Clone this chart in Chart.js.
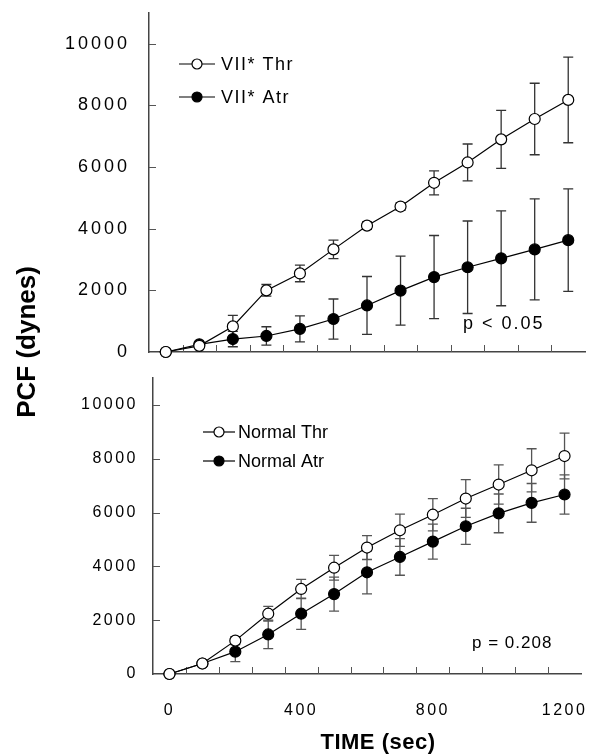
<!DOCTYPE html>
<html>
<head>
<meta charset="utf-8">
<script src="https://cdn.jsdelivr.net/npm/chart.js@4.4.1/dist/chart.umd.min.js"></script>
<style>
  body { margin: 0; background: #fff; width: 591px; height: 755px; position: relative; overflow: hidden; }
  #topChart { position: absolute; left: 0; top: 0; }
  #botChart { position: absolute; left: 0; top: 370px; }
  #yTitle {
    position: absolute; left: -74px; top: 327px; width: 200px; height: 30px;
    line-height: 30px; text-align: center; white-space: nowrap;
    font: bold 26px "Liberation Sans", Arial, sans-serif; color: #000;
    transform: rotate(-90deg);
  }
</style>
</head>
<body>
<canvas id="topChart" width="591" height="370"></canvas>
<canvas id="botChart" width="591" height="385"></canvas>
<div id="yTitle">PCF (dynes)</div>
<script>
// time points (sec)
const timeSec = [0, 100, 200, 300, 400, 500, 600, 700, 800, 900, 1000, 1100, 1200];

// upper panel: VII* plasma
const viiThr    = [0, 200, 830, 2000, 2550, 3330, 4100, 4720, 5490, 6150, 6900, 7560, 8180];
const viiThrErr = [0, 0, 360, 190, 270, 300, 120, 120, 390, 600, 940, 1160, 1390];
const viiAtr    = [0, 250, 420, 520, 750, 1070, 1510, 1990, 2430, 2750, 3040, 3330, 3630];
const viiAtrErr = [0, 0, 250, 300, 420, 650, 940, 1120, 1350, 1500, 1540, 1640, 1660];

// lower panel: normal plasma
const normThr    = [0, 390, 1240, 2240, 3160, 3950, 4700, 5340, 5920, 6520, 7040, 7570, 8100];
const normThrErr = [0, 0, 150, 270, 360, 460, 445, 600, 600, 700, 730, 800, 850];
const normAtr    = [0, 390, 830, 1470, 2240, 2970, 3780, 4350, 4920, 5490, 5970, 6360, 6670];
const normAtrErr = [0, 0, 370, 530, 580, 630, 800, 680, 650, 670, 720, 720, 730];

// axis ticks
const yTickValues = [0, 2000, 4000, 6000, 8000, 10000];
const xLabelValues = [0, 400, 800, 1200];
const xMinorTicks = [50, 150, 250, 350, 450, 550, 650, 750, 850, 950, 1050, 1150];

const FONT = '"Liberation Sans", Arial, Helvetica, sans-serif';

function pts(ys) {
    return timeSec.map((t, i) => ({ x: t, y: ys[i] }));
}

function makeDataset(label, ys, errs, filled) {
    return {
        label: label,
        data: pts(ys),
        errors: errs,
        borderColor: '#000',
        borderWidth: 1.2,
        backgroundColor: filled ? '#000' : '#fff',
        pointBackgroundColor: filled ? '#000' : '#fff',
        pointBorderColor: '#000',
        pointBorderWidth: 1.2,
        pointRadius: 5.5,
        tension: 0,
        clip: false
    };
}

// error bars drawn under the markers, plus inward tick marks
const errorBarPlugin = {
    id: 'errorBars',
    beforeDraw(chart, args, opts) {
        chart.ctx.letterSpacing = opts.spacing || '0px';
    },
    beforeDatasetsDraw(chart, args, opts) {
        const ctx = chart.ctx;
        const xs = chart.scales.x, ys = chart.scales.y;
        const area = chart.chartArea;
        ctx.save();
        // tick marks pointing into the plot
        ctx.strokeStyle = '#555';
        ctx.lineWidth = 1;
        ctx.beginPath();
        xMinorTicks.forEach(v => {
            const px = Math.round(xs.getPixelForValue(v)) + 0.5;
            ctx.moveTo(px, area.bottom);
            ctx.lineTo(px, area.bottom - 7);
        });
        yTickValues.forEach(v => {
            if (v === 0) return;
            const py = Math.round(ys.getPixelForValue(v)) + 0.5;
            ctx.moveTo(area.left, py);
            ctx.lineTo(area.left + 7, py);
        });
        ctx.stroke();

        ctx.strokeStyle = opts.color || '#333';
        ctx.lineWidth = 1.3;
        chart.data.datasets.forEach(ds => {
            ds.data.forEach((p, i) => {
                const e = ds.errors[i];
                if (!e) return;
                const px = xs.getPixelForValue(p.x);
                const top = ys.getPixelForValue(p.y + e);
                const bot = ys.getPixelForValue(p.y - e);
                ctx.beginPath();
                ctx.moveTo(px, top); ctx.lineTo(px, bot);
                ctx.moveTo(px - 5, top); ctx.lineTo(px + 5, top);
                ctx.moveTo(px - 5, bot); ctx.lineTo(px + 5, bot);
                ctx.stroke();
            });
        });
        ctx.restore();
    },
    afterDraw(chart, args, opts) {
        const ctx = chart.ctx;
        const lg = opts.legend;
        ctx.save();
        // legend: line with marker and label
        ctx.letterSpacing = lg.spacing;
        ctx.font = lg.font;
        ctx.textBaseline = 'middle';
        ctx.textAlign = 'left';
        chart.data.datasets.forEach((ds, i) => {
            const y = lg.y + i * lg.rowGap;
            ctx.strokeStyle = '#000';
            ctx.lineWidth = 1.2;
            ctx.beginPath();
            ctx.moveTo(lg.x0, y); ctx.lineTo(lg.x1, y);
            ctx.stroke();
            ctx.beginPath();
            ctx.arc((lg.x0 + lg.x1) / 2, y, 5, 0, Math.PI * 2);
            ctx.fillStyle = ds.pointBackgroundColor;
            ctx.fill();
            ctx.stroke();
            ctx.fillStyle = '#000';
            ctx.fillText(ds.label, lg.textX, y + 1);
        });
        // significance note
        ctx.letterSpacing = opts.note.spacing;
        ctx.font = opts.note.font;
        ctx.fillText(opts.note.text, opts.note.x, opts.note.y);
        // x axis title (lower panel only)
        if (opts.xTitle) {
            ctx.letterSpacing = opts.xTitle.spacing;
            ctx.textAlign = 'center';
            ctx.font = opts.xTitle.font;
            ctx.fillText(opts.xTitle.text, opts.xTitle.x, opts.xTitle.y);
        }
        ctx.restore();
    }
};

function buildChart(id, cfg) {
    return new Chart(document.getElementById(id), {
        type: 'line',
        data: { datasets: cfg.datasets },
        plugins: [errorBarPlugin],
        options: {
            responsive: false,
            animation: false,
            events: [],
            layout: { padding: cfg.padding, autoPadding: false },
            plugins: {
                legend: { display: false },
                tooltip: { enabled: false },
                errorBars: cfg.extra
            },
            scales: {
                x: {
                    type: 'linear',
                    min: -50, max: 1250,
                    afterBuildTicks: s => { s.ticks = xLabelValues.map(v => ({ value: v })); },
                    afterFit: s => { s.height = cfg.xHeight; s.paddingLeft = 0; s.paddingRight = 0; },
                    grid: { display: false, drawTicks: false },
                    border: { display: true, color: '#444', width: 1.5 },
                    ticks: {
                        display: cfg.showX,
                        padding: cfg.xPad,
                        maxRotation: 0,
                        color: '#000',
                        font: { family: FONT, size: 16 },
                        callback: v => String(v)
                    }
                },
                y: {
                    type: 'linear',
                    min: 0, max: 11000,
                    afterBuildTicks: s => { s.ticks = yTickValues.map(v => ({ value: v })); },
                    afterFit: s => { s.width = cfg.yWidth; s.paddingTop = 0; s.paddingBottom = 0; },
                    grid: { display: false, drawTicks: false },
                    border: { display: true, color: '#444', width: 1.5 },
                    ticks: {
                        padding: cfg.yPad,
                        color: '#000',
                        font: { family: FONT, size: cfg.yFont },
                        callback: v => String(v)
                    }
                }
            }
        }
    });
}

buildChart('topChart', {
    datasets: [
        makeDataset('VII* Thr', viiThr, viiThrErr, false),
        makeDataset('VII* Atr', viiAtr, viiAtrErr, true)
    ],
    padding: { left: 0, right: 6, top: 13, bottom: 0 },
    yWidth: 149, yPad: 19, yFont: 18,
    xHeight: 18, showX: false, xPad: 0,
    extra: {
        spacing: '3px',
        color: '#333',
        legend: { x0: 179, x1: 215, textX: 221, y: 64, rowGap: 33, font: '18px ' + FONT, spacing: '1.5px' },
        note: { text: 'p < 0.05', x: 463, y: 324, font: '18px ' + FONT, spacing: '2px' }
    }
});

buildChart('botChart', {
    datasets: [
        makeDataset('Normal Thr', normThr, normThrErr, false),
        makeDataset('Normal Atr', normAtr, normAtrErr, true)
    ],
    padding: { left: 0, right: 10, top: 8, bottom: 0 },
    yWidth: 153, yPad: 15, yFont: 16,
    xHeight: 81, showX: true, xPad: 27,
    extra: {
        spacing: '2.5px',
        color: '#555',
        legend: { x0: 203, x1: 235, textX: 238, y: 62, rowGap: 29, font: '18px ' + FONT, spacing: '0px' },
        note: { text: 'p = 0.208', x: 472, y: 273, font: '17px ' + FONT, spacing: '1px' },
        xTitle: { text: 'TIME (sec)', x: 378, y: 373, font: 'bold 22px ' + FONT, spacing: '0.5px' }
    }
});
</script>
</body>
</html>
